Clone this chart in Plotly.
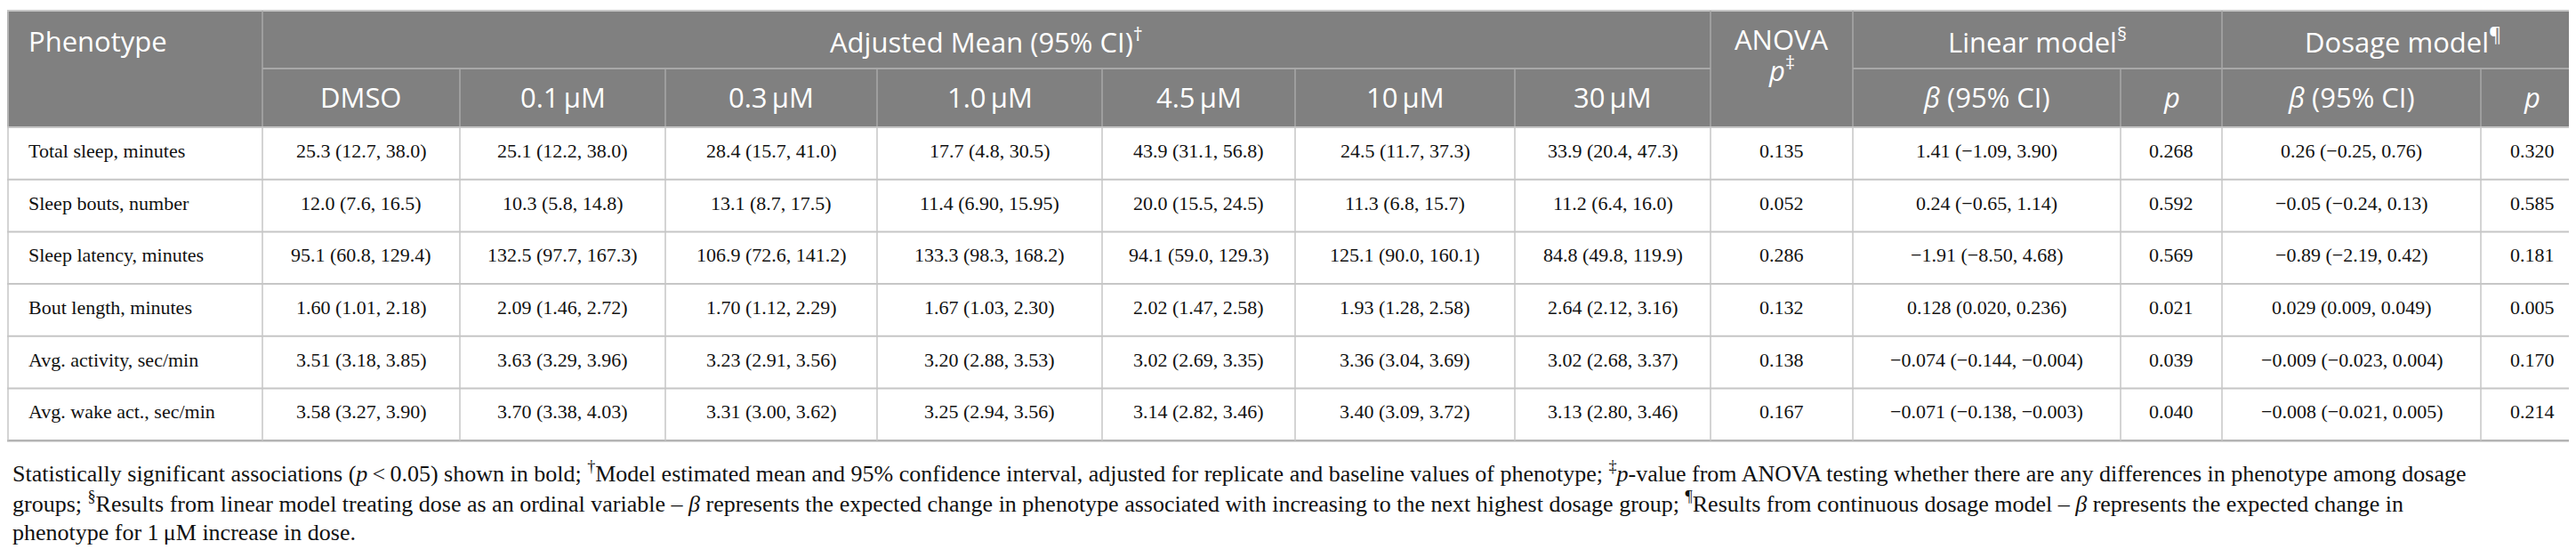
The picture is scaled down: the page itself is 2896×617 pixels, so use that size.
import plotly.graph_objects as go

# ---------------- DATA ---------------- #
phenotypes = ['Total sleep, minutes', 'Sleep bouts, number', 'Sleep latency, minutes',
              'Bout length, minutes', 'Avg. activity, sec/min', 'Avg. wake act., sec/min']

doses = ['DMSO', '0.1\u2009μM', '0.3\u2009μM', '1.0\u2009μM', '4.5\u2009μM', '10\u2009μM', '30\u2009μM']

dmso = ['25.3 (12.7, 38.0)', '12.0 (7.6, 16.5)', '95.1 (60.8, 129.4)', '1.60 (1.01, 2.18)', '3.51 (3.18, 3.85)', '3.58 (3.27, 3.90)']
d0_1 = ['25.1 (12.2, 38.0)', '10.3 (5.8, 14.8)', '132.5 (97.7, 167.3)', '2.09 (1.46, 2.72)', '3.63 (3.29, 3.96)', '3.70 (3.38, 4.03)']
d0_3 = ['28.4 (15.7, 41.0)', '13.1 (8.7, 17.5)', '106.9 (72.6, 141.2)', '1.70 (1.12, 2.29)', '3.23 (2.91, 3.56)', '3.31 (3.00, 3.62)']
d1_0 = ['17.7 (4.8, 30.5)', '11.4 (6.90, 15.95)', '133.3 (98.3, 168.2)', '1.67 (1.03, 2.30)', '3.20 (2.88, 3.53)', '3.25 (2.94, 3.56)']
d4_5 = ['43.9 (31.1, 56.8)', '20.0 (15.5, 24.5)', '94.1 (59.0, 129.3)', '2.02 (1.47, 2.58)', '3.02 (2.69, 3.35)', '3.14 (2.82, 3.46)']
d10 = ['24.5 (11.7, 37.3)', '11.3 (6.8, 15.7)', '125.1 (90.0, 160.1)', '1.93 (1.28, 2.58)', '3.36 (3.04, 3.69)', '3.40 (3.09, 3.72)']
d30 = ['33.9 (20.4, 47.3)', '11.2 (6.4, 16.0)', '84.8 (49.8, 119.9)', '2.64 (2.12, 3.16)', '3.02 (2.68, 3.37)', '3.13 (2.80, 3.46)']
anova_p = ['0.135', '0.052', '0.286', '0.132', '0.138', '0.167']
lin_beta = ['1.41 (−1.09, 3.90)', '0.24 (−0.65, 1.14)', '−1.91 (−8.50, 4.68)', '0.128 (0.020, 0.236)',
            '−0.074 (−0.144, −0.004)', '−0.071 (−0.138, −0.003)']
lin_p = ['0.268', '0.592', '0.569', '0.021', '0.039', '0.040']
dose_beta = ['0.26 (−0.25, 0.76)', '−0.05 (−0.24, 0.13)', '−0.89 (−2.19, 0.42)', '0.029 (0.009, 0.049)',
             '−0.009 (−0.023, 0.004)', '−0.008 (−0.021, 0.005)']
dose_p = ['0.320', '0.585', '0.181', '0.005', '0.170', '0.214']

footnote = [
    'Statistically significant associations (<i>p</i>\u2009<\u20090.05) shown in bold; <sup>†</sup>Model estimated mean and 95% confidence interval, '
    'adjusted for replicate and baseline values of phenotype; <sup>‡</sup><i>p</i>-value from ANOVA testing whether there are any differences in phenotype among dosage',
    'groups; <sup>§</sup>Results from linear model treating dose as an ordinal variable – <i>β</i> represents the expected change in phenotype associated with '
    'increasing to the next highest dosage group; <sup>¶</sup>Results from continuous dosage model – <i>β</i> represents the expected change in',
    'phenotype for 1\u2009μM increase in dose.',
]

# ---------------- LAYOUT CONSTANTS ---------------- #
W, H = 2896, 617
col_edges = [0, 287, 509, 740, 978, 1231, 1448, 1695, 1915, 2075, 2376, 2490, 2781, 2896]
head_top, head_mid, head_bot = 4, 69, 135
row_h = 58.7
row_edges = [head_bot + i * row_h for i in range(len(phenotypes) + 1)]

HEAD_BG = '#808080'
HEAD_LINE = '#a8a8a8'
GRID = '#c6c6c6'
SERIF = 'Liberation Serif'
SANS = 'Open Sans'

body_cols = [phenotypes, dmso, d0_1, d0_3, d1_0, d4_5, d10, d30, anova_p, lin_beta, lin_p, dose_beta, dose_p]

fig = go.Figure()
fig.add_trace(go.Scatter(x=[0, W], y=[0, H], mode='markers', marker=dict(opacity=0), hoverinfo='skip', showlegend=False))

shapes = []
annotations = []


def line(x0, y0, x1, y1, color, width):
    shapes.append(dict(type='line', xref='x', yref='y', x0=x0, y0=y0, x1=x1, y1=y1,
                       line=dict(color=color, width=width), layer='above'))


def text(x, y, s, family, size, color, xanchor='center', yanchor='middle'):
    annotations.append(dict(x=x, y=y, xref='x', yref='y', text=s, showarrow=False,
                            xanchor=xanchor, yanchor=yanchor, align=xanchor if xanchor != 'center' else 'center',
                            font=dict(family=family, size=size, color=color)))


# header background
shapes.append(dict(type='rect', xref='x', yref='y', x0=0, x1=W, y0=head_top, y1=head_bot,
                   fillcolor=HEAD_BG, line=dict(width=0), layer='below'))

# -------- header lines -------- #
line(0, head_top, W, head_top, GRID, 2)
line(col_edges[1], head_mid, col_edges[8], head_mid, HEAD_LINE, 2)
line(col_edges[9], head_mid, col_edges[13], head_mid, HEAD_LINE, 2)
for i in [1, 8, 9, 11]:
    line(col_edges[i], head_top, col_edges[i], head_bot, HEAD_LINE, 1.5)
for i in [2, 3, 4, 5, 6, 7, 10, 12]:
    line(col_edges[i], head_mid, col_edges[i], head_bot, HEAD_LINE, 1.5)

# -------- body grid -------- #
for k, y in enumerate(row_edges):
    if k == len(row_edges) - 1:
        line(0, y, W, y, '#b4b4b4', 2.5)
    else:
        line(0, y, W, y, GRID, 2)
for x in col_edges:
    xx = min(max(x, 1), W - 1)
    line(xx, row_edges[0], xx, row_edges[-1], GRID, 1.5)
line(1, head_top, 1, head_bot, GRID, 1.5)
line(W - 1, head_top, W - 1, head_bot, GRID, 1.5)

# -------- header text -------- #
hs = 31
def cx(i, j=None):
    j = i + 1 if j is None else j
    return (col_edges[i] + col_edges[j]) / 2

r1 = (head_top + head_mid) / 2 + 1
r2 = (head_mid + head_bot) / 2 - 1
text(22, r1, 'Phenotype', SANS, hs, 'white', xanchor='left')
text(cx(1, 8), r1, 'Adjusted Mean (95% CI)<sup>†</sup>', SANS, hs, 'white')
text(cx(8), r1 - 2, 'ANOVA', SANS, hs, 'white')
text(cx(8), r1 + 32, '<i>p</i><sup>‡</sup>', SANS, hs, 'white')
text(cx(9, 11), r1, 'Linear model<sup>§</sup>', SANS, hs, 'white')
text(cx(11, 13), r1, 'Dosage model<sup>¶</sup>', SANS, hs, 'white')
for i, d in enumerate(doses):
    text(cx(i + 1), r2, d, SANS, hs, 'white')
text(cx(9), r2, '<i>β</i> (95% CI)', SANS, hs, 'white')
text(cx(10), r2, '<i>p</i>', SANS, hs, 'white')
text(cx(11), r2, '<i>β</i> (95% CI)', SANS, hs, 'white')
text(cx(12), r2, '<i>p</i>', SANS, hs, 'white')

# -------- body text -------- #
bs = 22
for r in range(len(phenotypes)):
    yc = (row_edges[r] + row_edges[r + 1]) / 2 - 3
    for c, colvals in enumerate(body_cols):
        if c == 0:
            text(22, yc, colvals[r], SERIF, bs, '#111111', xanchor='left')
        else:
            text(cx(c), yc, colvals[r], SERIF, bs, '#111111')

# -------- footnote -------- #
fy = [522, 556, 590]
for y, s in zip(fy, footnote):
    text(4, y, s, SERIF, 26, '#111111', xanchor='left')

fig.update_layout(
    width=W, height=H,
    margin=dict(l=0, r=0, t=0, b=0),
    paper_bgcolor='white', plot_bgcolor='white',
    xaxis=dict(range=[0, W], visible=False, fixedrange=True),
    yaxis=dict(range=[H, 0], visible=False, fixedrange=True),
    shapes=shapes, annotations=annotations,
    showlegend=False,
)

fig.write_html("out.html")
